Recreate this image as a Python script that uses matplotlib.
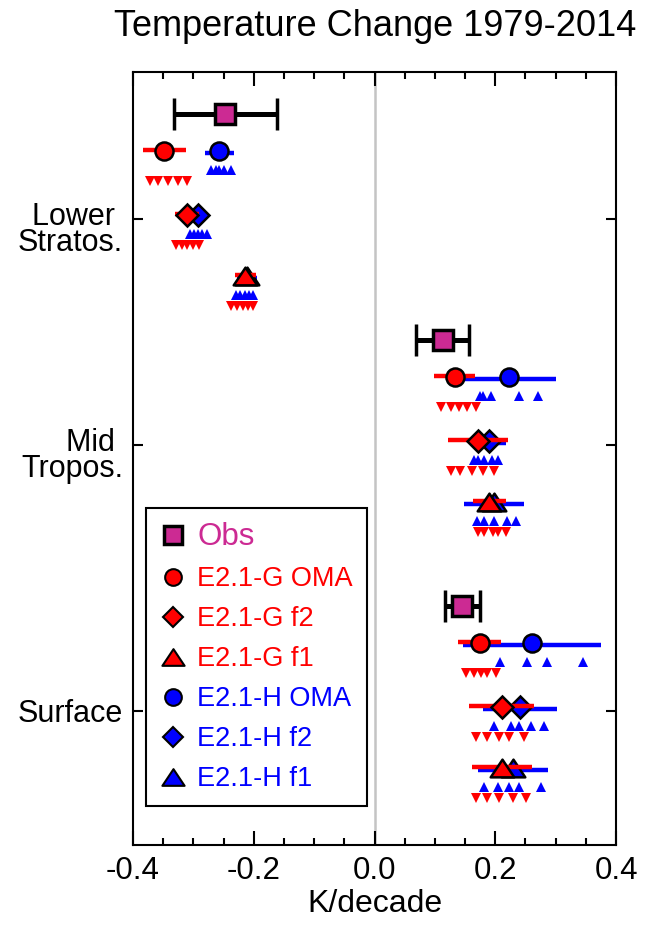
import numpy as np
import matplotlib
matplotlib.use("Agg")
import matplotlib.pyplot as plt
from matplotlib.lines import Line2D
from matplotlib.path import Path
from matplotlib.transforms import ScaledTranslation, blended_transform_factory

plt.rcParams["font.family"] = ["Liberation Sans", "DejaVu Sans"]

# ---- data (K/decade) ----
REGIONS = ["Lower \nStratos.", "Mid \nTropos.", "Surface"]
VARIANTS = ["OMA", "f2", "f1"]

OBS = [-0.247, 0.113, 0.145]
OBS_ERR = [0.085, 0.044, 0.029]

# ensemble means / spread, per region: [OMA, f2, f1]
G_MEAN = [[-0.348, -0.310, -0.214], [0.133, 0.171, 0.190], [0.174, 0.211, 0.211]]
G_ERR = [[0.035, 0.020, 0.017], [0.034, 0.050, 0.027], [0.035, 0.054, 0.050]]
H_MEAN = [[-0.257, -0.292, -0.211], [0.223, 0.190, 0.198], [0.261, 0.241, 0.230]]
H_ERR = [[0.024, 0.012, 0.017], [0.078, 0.028, 0.050], [0.114, 0.061, 0.058]]

# individual ensemble members
G_MEMBERS = [
    [[-0.372, -0.358, -0.342, -0.326, -0.310],
     [-0.329, -0.319, -0.310, -0.300, -0.291],
     [-0.238, -0.228, -0.218, -0.210, -0.202]],
    [[0.110, 0.127, 0.140, 0.154, 0.168],
     [0.127, 0.141, 0.162, 0.180, 0.198],
     [0.171, 0.182, 0.196, 0.204, 0.218]],
    [[0.152, 0.165, 0.176, 0.187, 0.201],
     [0.168, 0.187, 0.207, 0.222, 0.248],
     [0.168, 0.187, 0.206, 0.229, 0.251]],
]
H_MEMBERS = [
    [[-0.270, -0.263, -0.257, -0.250, -0.237],
     [-0.305, -0.299, -0.292, -0.285, -0.278],
     [-0.229, -0.222, -0.215, -0.208, -0.201]],
    [[0.175, 0.180, 0.193, 0.240, 0.270],
     [0.164, 0.172, 0.181, 0.194, 0.205],
     [0.169, 0.182, 0.198, 0.220, 0.235]],
    [[0.208, 0.252, 0.286, 0.345],
     [0.198, 0.226, 0.239, 0.259, 0.281],
     [0.181, 0.204, 0.222, 0.240, 0.276]],
]

# ---- layout (vertical positions in pixel-like units, top = small) ----
TICK_Y = [219, 445, 711]
OBS_DY = -105
ROW_DY = [-68, -4, 57]
BLUE_DY, RED_DY = 19, 30

MAG = "#cc2a93"
RED = "#ff0000"
BLUE = "#0000ff"
TRI = Path([(-1, -0.75), (1, -0.75), (0, 0.75), (-1, -0.75)], closed=True)
SHAPES = ["o", "D", TRI]
SIZES = [13, 11, 17]

fig = plt.figure(figsize=(6.45, 9.26), dpi=100)
ax = fig.add_axes([133/645, 1-845/926, (616-133)/645, (845-72)/926])
ax.axvline(0, color="#c4c4c4", lw=1.8, zorder=0)

for i in range(3):
    ty = TICK_Y[i]
    ax.errorbar(OBS[i], ty + OBS_DY, xerr=OBS_ERR[i], fmt="s", color="k", mfc=MAG, mec="k",
                ms=15, mew=2.5, elinewidth=3.6, capsize=11.5, capthick=3.6, zorder=5)
    for j in range(3):
        y = ty + ROW_DY[j]
        hm = H_MEMBERS[i][j]; gm = G_MEMBERS[i][j]
        ax.plot(hm, [y + BLUE_DY]*len(hm), "^", color=BLUE, ms=7, mew=0, zorder=2)
        ax.plot(gm, [y + RED_DY]*len(gm), "v", color=RED, ms=7, mew=0, zorder=2)
        ax.errorbar(H_MEAN[i][j], y + 2, xerr=H_ERR[i][j], fmt="none", ecolor=BLUE, elinewidth=3.2, zorder=3)
        ax.plot(H_MEAN[i][j], y, marker=SHAPES[j], ls="none", mfc=BLUE, mec="k", ms=SIZES[j], mew=1.8, zorder=3)
        ax.errorbar(G_MEAN[i][j], y - 1, xerr=G_ERR[i][j], fmt="none", ecolor=RED, elinewidth=3.2, zorder=4)
        ax.plot(G_MEAN[i][j], y, marker=SHAPES[j], ls="none", mfc=RED, mec="k", ms=SIZES[j], mew=1.8, zorder=4)

ax.set_xlim(-0.4, 0.4)
ax.set_ylim(845, 72)
ax.set_xticks(np.arange(-0.4, 0.41, 0.2))
ax.set_xticklabels(["-0.4", "-0.2", "0.0", "0.2", "0.4"], fontsize=22.5)
ax.set_xticks(np.arange(-0.4, 0.41, 0.05), minor=True)
ax.set_yticks(TICK_Y)
ax.set_yticklabels([])
# region labels drawn as text: the two-line ones sit a little below their tick
lab_tr = blended_transform_factory(ax.transAxes, ax.transData)
for ty, name in zip(TICK_Y, REGIONS):
    dy = -0.11 if "\n" in name else -0.03
    ax.text(0, ty, name, transform=lab_tr + ScaledTranslation(-0.1, dy, fig.dpi_scale_trans),
            ha="right", va="center", multialignment="right", fontsize=22, linespacing=0.83)
ax.tick_params(axis="both", which="both", direction="in", top=True, right=True, width=1.5)
ax.tick_params(axis="x", which="major", length=10, pad=8)
ax.tick_params(axis="x", which="minor", length=5)
ax.tick_params(axis="y", which="major", length=7, pad=8)
for s in ax.spines.values():
    s.set_linewidth(1.5)
ax.set_xlabel("K/decade", fontsize=23, labelpad=2)

fig.text(375/645, 1-36/926, "Temperature Change 1979-2014", fontsize=26, ha="center", va="baseline")

# ---- legend ----
handles = [Line2D([], [], ls="none", marker="s", mfc=MAG, mec="k", ms=13, mew=2.5)]
labels = ["Obs"]
colors = [MAG]
for name, col in (("E2.1-G", RED), ("E2.1-H", BLUE)):
    for j, v in enumerate(VARIANTS):
        handles.append(Line2D([], [], ls="none", marker=SHAPES[j], mfc=col, mec="k",
                              ms=[12, 10, 16][j], mew=1.5))
        labels.append(f"{name} {v}")
        colors.append(col)
leg = ax.legend(handles, labels, loc="lower left", bbox_to_anchor=(146/645, 1-806/926),
                bbox_transform=fig.transFigure, borderaxespad=0, fontsize=19.5, labelcolor=colors,
                frameon=True, fancybox=False, framealpha=1, edgecolor="k", handlelength=1.0,
                handletextpad=0.4, labelspacing=0.52, borderpad=0.5)
leg.get_frame().set_linewidth(1.5)
leg.get_texts()[0].set_fontsize(22.5)

fig.savefig("out.png", dpi=100)
